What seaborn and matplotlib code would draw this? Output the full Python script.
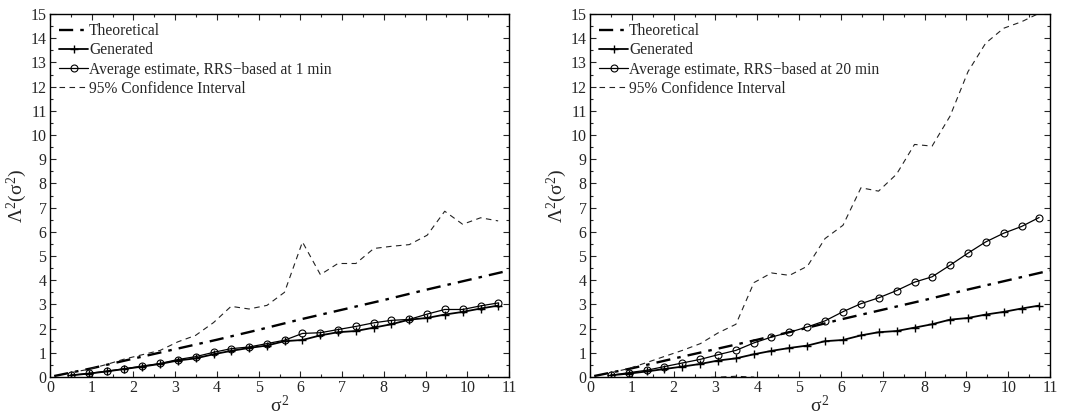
import numpy as np
import pandas as pd
import seaborn as sns
import matplotlib
matplotlib.use("Agg")
import matplotlib.pyplot as plt
from matplotlib.ticker import MultipleLocator

# ---- data ----
sigma2 = [0.50, 0.93, 1.36, 1.78, 2.21, 2.64, 3.06, 3.49, 3.92, 4.34, 4.77, 5.20, 5.62,
          6.05, 6.48, 6.90, 7.33, 7.76, 8.18, 8.61, 9.04, 9.46, 9.89, 10.32, 10.74]

theo_x = [0.1, 1, 2, 3, 4, 5, 6, 7, 8, 9, 10, 11]
theo_y = [0.04, 0.36, 0.76, 1.15, 1.54, 1.95, 2.38, 2.78, 3.18, 3.60, 4.00, 4.40]

generated = [0.07, 0.14, 0.23, 0.33, 0.43, 0.54, 0.68, 0.77, 0.94, 1.08, 1.20, 1.30, 1.48,
             1.53, 1.72, 1.85, 1.90, 2.04, 2.18, 2.37, 2.44, 2.58, 2.69, 2.83, 2.95]

est_1min = [0.07, 0.15, 0.24, 0.34, 0.45, 0.56, 0.72, 0.84, 1.02, 1.17, 1.24, 1.38, 1.52,
            1.80, 1.83, 1.96, 2.09, 2.24, 2.34, 2.38, 2.60, 2.79, 2.79, 2.94, 3.06]
ci_up_1min = [0.18, 0.32, 0.52, 0.74, 0.92, 1.10, 1.45, 1.72, 2.25, 2.92, 2.81, 2.96, 3.50,
              5.58, 4.23, 4.69, 4.69, 5.31, 5.40, 5.47, 5.86, 6.85, 6.31, 6.58, 6.45]
ci_lo_1min = [-0.05, -0.05, -0.06, -0.08, -0.06, -0.05, -0.06, -0.05, -0.25, -0.60, -0.35, -0.22, -0.45,
              -2.00, -0.60, -0.80, -0.55, -0.85, -0.75, -0.70, -0.70, -1.30, -0.75, -0.70, -0.35]

est_20min = [0.07, 0.18, 0.28, 0.43, 0.58, 0.73, 0.92, 1.10, 1.41, 1.65, 1.85, 2.07, 2.32,
             2.70, 3.03, 3.27, 3.57, 3.92, 4.14, 4.62, 5.12, 5.58, 5.94, 6.22, 6.59]
ci_up_20min = [0.18, 0.35, 0.60, 0.85, 1.10, 1.38, 1.82, 2.18, 3.90, 4.30, 4.20, 4.58, 5.72,
               6.27, 7.82, 7.68, 8.38, 9.61, 9.54, 10.78, 12.62, 13.79, 14.41, 14.68, 15.03]
ci_lo_20min = [-0.05, -0.05, -0.06, -0.05, -0.04, -0.03, -0.005, 0.03, -0.005, -0.90, -0.50, -0.40, -1.00,
               -0.80, -1.70, -1.10, -1.20, -1.70, -1.20, -1.50, -2.30, -2.60, -2.50, -2.20, -1.80]

panels = [
    ("Average estimate, RRS\u2212based at 1 min", est_1min, ci_up_1min, ci_lo_1min),
    ("Average estimate, RRS\u2212based at 20 min", est_20min, ci_up_20min, ci_lo_20min),
]

sns.set_theme(style="ticks")
plt.rcParams["font.family"] = ["Liberation Serif", "DejaVu Serif"]
plt.rcParams["mathtext.fontset"] = "custom"
plt.rcParams["mathtext.rm"] = "Liberation Serif"
plt.rcParams["mathtext.it"] = "Liberation Serif"
plt.rcParams["mathtext.bf"] = "Liberation Serif:bold"
plt.rcParams["axes.linewidth"] = 1.0

fig = plt.figure(figsize=(10.85, 4.17), dpi=100)
axes = [fig.add_axes([50 / 1085, 40 / 417, 459 / 1085, 363 / 417]),
        fig.add_axes([590 / 1085, 40 / 417, 460 / 1085, 363 / 417])]

for ax, (est_label, est, ci_up, ci_lo) in zip(axes, panels):
    sns.lineplot(x=theo_x, y=theo_y, ax=ax, color="black", lw=1.7, linestyle=(0, (6, 3, 1.5, 3)),
                 label="Theoretical")
    sns.lineplot(x=sigma2, y=generated, ax=ax, color="black", lw=1.3, marker="+", markersize=6,
                 markeredgewidth=1.0, markeredgecolor="black", label="Generated")
    sns.lineplot(x=sigma2, y=est, ax=ax, color="black", lw=0.9, marker="o", markersize=5,
                 markerfacecolor="none", markeredgecolor="black", markeredgewidth=0.8,
                 label=est_label)
    sns.lineplot(x=sigma2, y=ci_up, ax=ax, color="#222222", lw=0.8, linestyle=(0, (5, 4)),
                 label="95% Confidence Interval")
    sns.lineplot(x=sigma2, y=ci_lo, ax=ax, color="#222222", lw=0.8, linestyle=(0, (5, 4)),
                 legend=False)

    ax.set_xlim(0, 11)
    ax.set_ylim(0, 15)
    ax.xaxis.set_major_locator(MultipleLocator(1))
    ax.yaxis.set_major_locator(MultipleLocator(1))
    ax.xaxis.set_minor_locator(MultipleLocator(0.5))
    ax.yaxis.set_minor_locator(MultipleLocator(0.5))
    ax.tick_params(which="both", direction="in", top=True, right=True, labelsize=11.5,
                   width=0.8, pad=2.5)
    ax.tick_params(which="major", length=4)
    ax.tick_params(which="minor", length=2)
    for s in ax.spines.values():
        s.set_visible(True)
        s.set_color("black")
    ax.set_xlabel(r"$\sigma^2$", fontsize=14, labelpad=-1)
    ax.set_ylabel(r"$\Lambda^2(\sigma^2)$", fontsize=14, labelpad=1)

    leg = ax.legend(loc="upper left", frameon=False, fontsize=11.2, handlelength=1.85,
                    handletextpad=0.05, borderaxespad=0.3, labelspacing=0.2,
                    borderpad=0.3)

fig.savefig("out.png", dpi=100)
